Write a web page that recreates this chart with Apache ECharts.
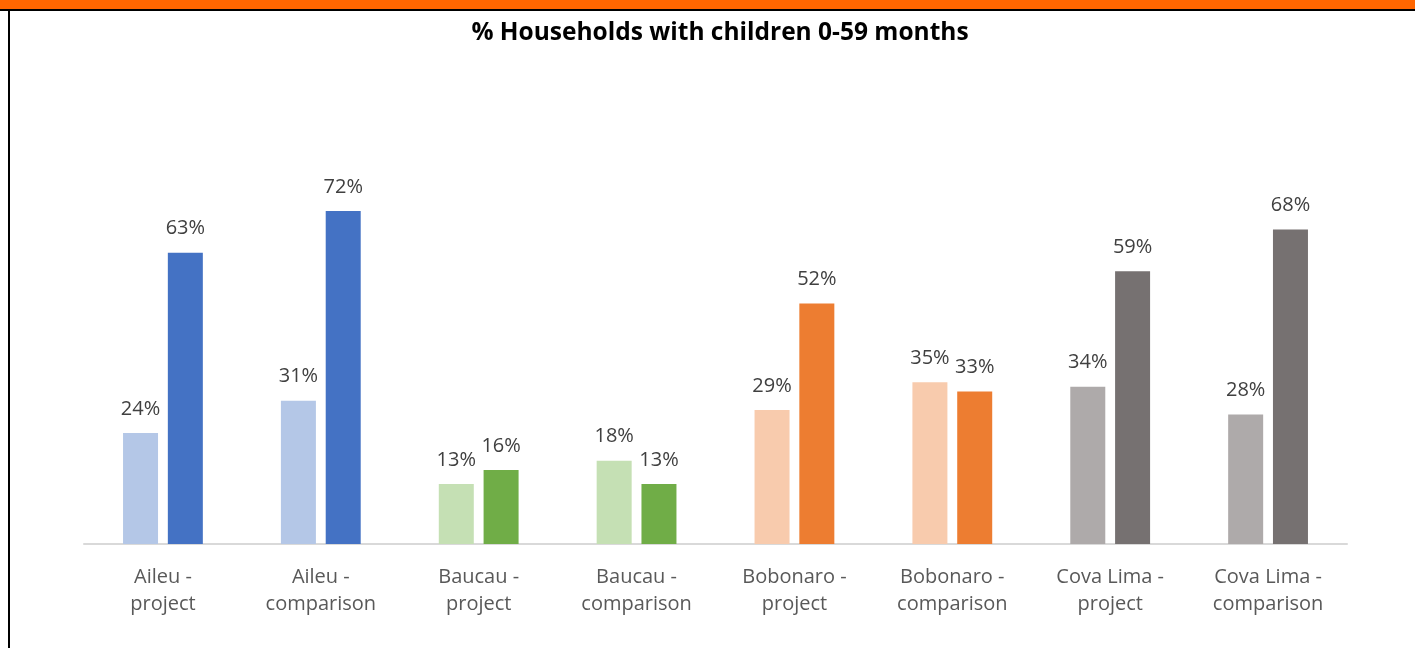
<!DOCTYPE html>
<html>
<head>
<meta charset="utf-8">
<script src="https://cdn.jsdelivr.net/npm/echarts@6/dist/echarts.min.js"></script>
<style>
  html, body { margin: 0; padding: 0; background: #fff; }
  #topBand { position: absolute; left: 0; top: 0; width: 1415px; height: 9px; background: #FF6600; }
  #topLine { position: absolute; left: 0; top: 9px; width: 1415px; height: 2px; background: #000; }
  #leftLine { position: absolute; left: 8px; top: 9px; width: 2px; height: 639px; background: #000; }
  #chart { position: absolute; left: 0; top: 0; width: 1415px; height: 648px; }
</style>
</head>
<body>
<div id="chart"></div>
<div id="topBand"></div>
<div id="topLine"></div>
<div id="leftLine"></div>
<script>
  // categories and values
  var categories = ['Aileu -\nproject', 'Aileu -\ncomparison', 'Baucau -\nproject', 'Baucau -\ncomparison',
                    'Bobonaro -\nproject', 'Bobonaro -\ncomparison', 'Cova Lima -\nproject', 'Cova Lima -\ncomparison'];
  var firstValues = [24, 31, 13, 18, 29, 35, 34, 28];
  var secondValues = [63, 72, 16, 13, 52, 33, 59, 68];
  var lightColors = ['#B4C7E7', '#B4C7E7', '#C5E0B4', '#C5E0B4', '#F8CBAD', '#F8CBAD', '#AEAAAA', '#AEAAAA'];
  var darkColors = ['#4472C4', '#4472C4', '#70AD47', '#70AD47', '#ED7D31', '#ED7D31', '#767171', '#767171'];

  var myChart = echarts.init(document.getElementById('chart'));

  var labelStyle = {
    show: true,
    position: 'top',
    distance: 14,
    formatter: '{c}%',
    color: '#404040',
    fontSize: 20,
    fontFamily: 'Open Sans'
  };

  function colored(values, colors) {
    return values.map(function (v, i) {
      return { value: v, itemStyle: { color: colors[i] } };
    });
  }

  var option = {
    animation: false,
    title: {
      text: '% Households with children 0-59 months',
      left: 715,
      textAlign: 'center',
      top: 16,
      textStyle: { fontSize: 24.5, fontWeight: 'bold', color: '#000', fontFamily: 'Open Sans' }
    },
    grid: { left: 84, right: 68, top: 174, bottom: 104 },
    xAxis: {
      type: 'category',
      data: categories,
      axisLine: { lineStyle: { color: '#D9D9D9', width: 2 } },
      axisTick: { show: false },
      axisLabel: {
        color: '#595959',
        fontSize: 20,
        lineHeight: 27,
        margin: 20,
        fontFamily: 'Open Sans'
      }
    },
    yAxis: {
      type: 'value',
      min: 0,
      max: 80,
      show: false
    },
    series: [
      {
        type: 'bar',
        barWidth: 35,
        barGap: '28%',
        data: colored(firstValues, lightColors),
        label: labelStyle
      },
      {
        type: 'bar',
        barWidth: 35,
        data: colored(secondValues, darkColors),
        label: labelStyle
      }
    ]
  };

  myChart.setOption(option);
</script>
</body>
</html>
